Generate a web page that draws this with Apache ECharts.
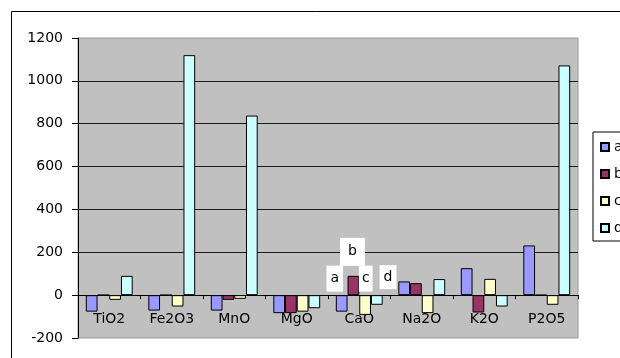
<!DOCTYPE html>
<html>
<head>
<meta charset="utf-8">
<script src="https://cdn.jsdelivr.net/npm/echarts@6/dist/echarts.min.js"></script>
<style>
  html, body { margin: 0; padding: 0; background: #fff; }
  #chart { width: 620px; height: 358px; }
</style>
</head>
<body>
<div id="chart"></div>
<script>
// Oxide categories along the x axis
const categories = ['TiO2', 'Fe2O3', 'MnO', 'MgO', 'CaO', 'Na2O', 'K2O', 'P2O5'];

// Series values per oxide
const seriesA = [-77, -72, -72, -84, -77, 64, 126, 232];
const seriesB = [0, 0, -22, -84, 90, 56, -81, 0];
const seriesC = [-22, -53, -17, -77, -92, -84, 76, -45];
const seriesD = [90, 1120, 838, -61, -45, 75, -53, 1072];

const seriesNames = ['a', 'b', 'c', 'd'];
const yTicks = { min: -200, max: 1200, step: 200 };

const FONT = 'DejaVu Sans';
const colors = ['#9999FF', '#993366', '#FFFFCC', '#CCFFFF'];

const chart = echarts.init(document.getElementById('chart'), null, { renderer: 'canvas' });

const allValues = [seriesA, seriesB, seriesC, seriesD];

const option = {
  backgroundColor: '#ffffff',
  animation: false,
  grid: {
    left: 78, top: 38, right: 42, bottom: 20,
    show: true,
    backgroundColor: '#C0C0C0',
    borderColor: '#9a9a9a',
    borderWidth: 1,
    containLabel: false,
    outerBoundsMode: 'none'
  },
  legend: {
    orient: 'vertical',
    left: 593, top: 132,
    padding: [8, 40, 6, 7],
    borderColor: '#000',
    borderWidth: 1,
    itemWidth: 8, itemHeight: 8,
    itemGap: 13,
    icon: 'rect',
    textStyle: { fontFamily: FONT, fontSize: 14, color: '#000', lineHeight: 14 },
    data: seriesNames
  },
  xAxis: {
    type: 'category',
    data: categories,
    axisLine: { onZero: true, lineStyle: { color: '#000', width: 1 } },
    axisTick: { show: true, length: 4, lineStyle: { color: '#000' } },
    // names sit just under the zero line, inside the plot
    axisLabel: { fontFamily: FONT, fontSize: 14, color: '#000', margin: -26, interval: 0 },
    splitLine: { show: false }
  },
  yAxis: {
    type: 'value',
    min: yTicks.min, max: yTicks.max, interval: yTicks.step,
    axisLine: { show: true, lineStyle: { color: '#000', width: 1 } },
    axisTick: { show: true, length: 6, lineStyle: { color: '#000' } },
    axisLabel: { fontFamily: FONT, fontSize: 14, color: '#000', margin: 15, formatter: v => String(v) },
    splitLine: { show: true, showMinLine: false, showMaxLine: false, lineStyle: { color: '#1a1a1a', width: 1 } }
  },
  series: seriesNames.map((name, i) => ({
    name: name,
    type: 'bar',
    data: allValues[i],
    barGap: '0%',
    barCategoryGap: '25%',
    itemStyle: { color: colors[i], borderColor: '#000', borderWidth: 1 }
  }))
};

chart.setOption(option);

// White name tags above the CaO group, placed through the axis scales
const tagSpecs = [
  { text: 'a', dx: -24.5, at: 77, pad: [6, 4] },
  { text: 'b', dx: -6.8, at: 202, pad: [7, 8] },
  { text: 'c', dx: 6.5, at: 77, pad: [6, 3] },
  { text: 'd', dx: 28.8, at: 84, pad: [5, 4] }
];
const tags = tagSpecs.map(t => {
  const p = chart.convertToPixel({ gridIndex: 0 }, ['CaO', t.at]);
  return {
    type: 'text',
    x: p[0] + t.dx,
    y: p[1],
    z: 100,
    silent: true,
    style: {
      text: t.text,
      fontFamily: FONT,
      fontSize: 14,
      fill: '#000',
      align: 'center',
      verticalAlign: 'middle',
      backgroundColor: '#ffffff',
      padding: t.pad
    }
  };
});

chart.setOption({
  graphic: [
    {
      type: 'rect',
      z: -1,
      silent: true,
      shape: { x: 11.5, y: 11.5, width: 700, height: 400 },
      style: { fill: 'none', stroke: '#000', lineWidth: 1 }
    }
  ].concat(tags)
});
</script>
</body>
</html>
